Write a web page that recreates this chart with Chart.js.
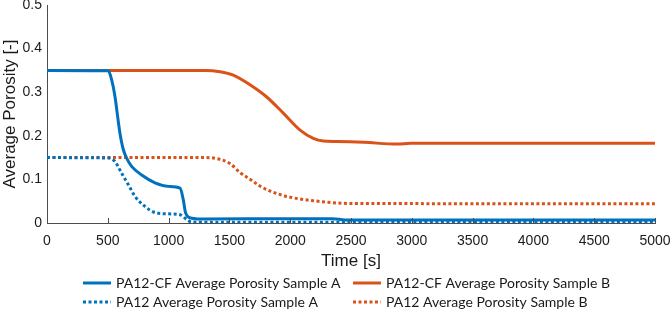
<!DOCTYPE html>
<html>
<head>
<meta charset="utf-8">
<script src="https://cdn.jsdelivr.net/npm/chart.js@4.4.1/dist/chart.umd.min.js"></script>
<style>
  html, body { margin: 0; padding: 0; background: #fff; }
</style>
</head>
<body>
<canvas id="chart" width="671" height="312"></canvas>
<script>
// time [s] / porosity [-]
const cfA_t = [0, 504, 532, 559, 581, 600, 628, 655, 696, 779, 888, 998, 1094, 1121, 1140, 1190, 1299, 2000, 2350, 2450, 5000];
const cfA_v = [0.35, 0.349, 0.328, 0.29, 0.244, 0.206, 0.168, 0.149, 0.13, 0.11, 0.092, 0.084, 0.08, 0.053, 0.023, 0.011, 0.009, 0.01, 0.01, 0.007, 0.007];

const cfB_t = [0, 1300, 1423, 1532, 1669, 1807, 1943, 2081, 2190, 2272, 2382, 2605, 2880, 2990, 3500, 5000];
const cfB_v = [0.35, 0.35, 0.347, 0.339, 0.317, 0.289, 0.252, 0.213, 0.194, 0.188, 0.187, 0.185, 0.181, 0.183, 0.183, 0.183];

const pa12A_t = [0, 504, 559, 614, 669, 724, 806, 888, 998, 1094, 1149, 1190, 5000];
const pa12A_v = [0.15, 0.149, 0.141, 0.114, 0.088, 0.061, 0.038, 0.024, 0.021, 0.019, 0.008, 0.002, 0.002];

const pa12B_t = [0, 1300, 1368, 1507, 1590, 1672, 1750, 1837, 1919, 2002, 2191, 2471, 5000];
const pa12B_v = [0.15, 0.15, 0.149, 0.136, 0.115, 0.1, 0.085, 0.073, 0.065, 0.059, 0.051, 0.045, 0.044];

const seriesLabels = [
  'PA12-CF Average Porosity Sample A',
  'PA12-CF Average Porosity Sample B',
  'PA12 Average Porosity Sample A',
  'PA12 Average Porosity Sample B',
];

const BLUE = '#0072BD';
const ORANGE = '#D95319';
const AXIS = '#4d4d4d';

function pts(ts, vs) {
  return ts.map((t, i) => ({ x: t, y: vs[i] }));
}

function line(label, ts, vs, color, dotted) {
  return {
    label,
    data: pts(ts, vs),
    borderColor: color,
    backgroundColor: color,
    borderWidth: 3,
    borderDash: dotted ? [3, 2.5] : [],
    pointRadius: 0,
    cubicInterpolationMode: 'monotone',
    fill: false,
  };
}

/* MATLAB style: tick marks point into the plot */
const innerTicks = {
  id: 'innerTicks',
  afterDraw(chart) {
    const { ctx, chartArea } = chart;
    const x = chart.scales.x;
    ctx.save();
    ctx.strokeStyle = AXIS;
    ctx.lineWidth = 1;
    x.ticks.forEach(t => {
      const px = Math.round(x.getPixelForValue(t.value)) + 0.5;
      ctx.beginPath();
      ctx.moveTo(px, chartArea.bottom);
      ctx.lineTo(px, chartArea.bottom - 5);
      ctx.stroke();
    });
    ctx.restore();
  }
};

/* two-column legend under the axis title */
const legendGrid = {
  id: 'legendGrid',
  afterDraw(chart) {
    const ctx = chart.ctx;
    const cols = [83, 353];
    const rows = [283, 302];
    ctx.save();
    ctx.font = '14px Lato, "Open Sans", sans-serif';
    ctx.textBaseline = 'middle';
    chart.data.datasets.forEach((ds, i) => {
      const x = cols[i % 2];
      const y = rows[Math.floor(i / 2)];
      ctx.strokeStyle = ds.borderColor;
      ctx.lineWidth = ds.borderWidth;
      ctx.setLineDash(ds.borderDash);
      ctx.beginPath();
      ctx.moveTo(x, y);
      ctx.lineTo(x + 28, y);
      ctx.stroke();
      ctx.setLineDash([]);
      ctx.fillStyle = '#1a1a1a';
      ctx.fillText(ds.label, x + 33, y);
    });
    ctx.restore();
  }
};

const tickFont = { family: '"Liberation Sans", Arial, sans-serif', size: 14 };
const titleFont = { family: '"Liberation Sans", Arial, sans-serif', size: 17 };

new Chart(document.getElementById('chart'), {
  type: 'line',
  data: {
    datasets: [
      line(seriesLabels[0], cfA_t, cfA_v, BLUE, false),
      line(seriesLabels[1], cfB_t, cfB_v, ORANGE, false),
      line(seriesLabels[2], pa12A_t, pa12A_v, BLUE, true),
      line(seriesLabels[3], pa12B_t, pa12B_v, ORANGE, true),
    ],
  },
  options: {
    responsive: false,
    animation: false,
    layout: { padding: { top: 5, right: 16, bottom: 40, left: 0 } },
    plugins: {
      legend: { display: false },
      tooltip: { enabled: false },
    },
    scales: {
      x: {
        type: 'linear',
        min: 0,
        max: 5000,
        grid: { display: false, drawTicks: false },
        border: { color: AXIS, width: 1 },
        ticks: {
          stepSize: 500,
          padding: 10,
          color: '#1a1a1a',
          font: tickFont,
          maxRotation: 0,
          callback: v => String(v),
        },
        title: { display: true, text: 'Time [s]', color: '#1a1a1a', font: titleFont, padding: { top: 0, bottom: 0 } },
        afterFit: s => { s.height = 49; s.paddingLeft = 0; s.paddingRight = 0; },
      },
      y: {
        min: 0,
        max: 0.5,
        grid: { display: false, drawTicks: false },
        border: { color: AXIS, width: 1 },
        ticks: {
          stepSize: 0.1,
          padding: 5,
          color: '#1a1a1a',
          font: tickFont,
          callback: v => String(Math.round(v * 10) / 10),
        },
        title: { display: true, text: 'Average Porosity [-]', color: '#1a1a1a', font: titleFont, padding: { top: 0, bottom: 0 } },
        afterFit: s => { s.width = 47; s.paddingTop = 0; s.paddingBottom = 0; },
      },
    },
  },
  plugins: [innerTicks, legendGrid],
});
</script>
</body>
</html>
